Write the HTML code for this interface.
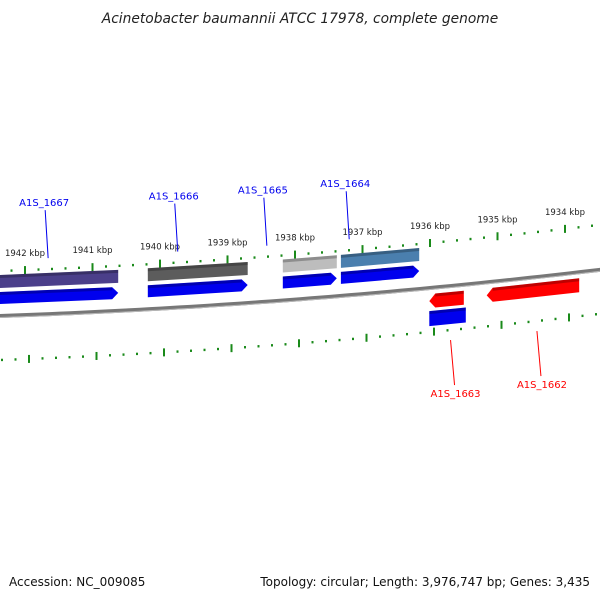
<!DOCTYPE html>
<html><head><meta charset="utf-8"><style>
html,body{margin:0;padding:0;background:#fff;width:600px;height:600px;overflow:hidden}
svg{display:block;font-family:"DejaVu Sans","Liberation Sans",sans-serif}
</style></head><body>
<svg id="chart" width="600" height="600" viewBox="0 0 600 600">
<text x="300" y="23" text-anchor="middle" font-size="13.8" font-style="italic" fill="#222">Acinetobacter baumannii ATCC 17978, complete genome</text>
<g id="layer"></g>
<text x="9" y="586" font-size="12" fill="#111">Accession: NC_009085</text>
<text x="590" y="586" text-anchor="end" font-size="12" fill="#111">Topology: circular; Length: 3,976,747 bp; Genes: 3,435</text>
</svg>
<script>
const tickLabels = [1942, 1941, 1940, 1939, 1938, 1937, 1936, 1935, 1934];
const geneNames = ["A1S_1667","A1S_1666","A1S_1665","A1S_1664","A1S_1663","A1S_1662"];
const geneStart = [1942.37, 1940.18, 1938.18, 1937.32, 1936.01, 1935.16];
const geneEnd = [1940.62, 1938.70, 1937.38, 1936.16, 1935.50, 1933.79];
const geneStrand = [1, 1, 1, 1, -1, -1];
const geneClassColor = ["#4b3f8a","#5c5c5c","#bdbdbd","#4a7fae","#0000ee",null];

const NS="http://www.w3.org/2000/svg";
const layer=document.getElementById('layer');
function X(kbp){return 25+(1942-kbp)*67.5;}
function C(x){return 316-0.035*x-0.00007*x*x;}
function mk(tag,attrs){const e=document.createElementNS(NS,tag);for(const k in attrs)e.setAttribute(k,attrs[k]);layer.appendChild(e);return e;}

let d='';for(let x=-10;x<=610;x+=10){d+=(x===-10?'M':'L')+x+','+C(x).toFixed(2);}
const bb=mk('path',{d:d,fill:'none',stroke:'#777','stroke-width':4});


const bb2=mk('path',{d:d,fill:'none',stroke:'#b8b8b8','stroke-width':1,transform:'translate(0,1.5)'});



const kMin=tickLabels[tickLabels.length-1]-0.6,kMax=tickLabels[0]+0.6;
for(let i=Math.round(kMin*5);i<=Math.round(kMax*5);i++){
  const k=i/5,x=X(k);if(x<-5||x>605)continue;
  const major=(i%5===0);
  [[-45,0],[44,4]].forEach(([off,shift])=>{
    const xx=x+shift,y=C(xx)+off;
    const t=mk('rect',{x:xx-1,y:major?y-4:y-1.2,width:2,height:major?8:2.4,fill:'#1a8a1a'});
    
    
  });
}
tickLabels.forEach(k=>{
  const x=X(k);
  const t=mk('text',{x:x,y:C(x)-45-14,'text-anchor':'middle','font-size':'8.5',fill:'#222'});
  t.textContent=k+' kbp';
  
  
});

function band(x0,x1,o0,o1,fill,head,name){
  const h=6,m=(o0+o1)/2;
  let pts=[];
  if(head===1){pts=[[x0,C(x0)+o0],[x1-h,C(x1-h)+o0],[x1,C(x1)+m],[x1-h,C(x1-h)+o1],[x0,C(x0)+o1]];}
  else if(head===-1){pts=[[x0+h,C(x0+h)+o0],[x1,C(x1)+o0],[x1,C(x1)+o1],[x0+h,C(x0+h)+o1],[x0,C(x0)+m]];}
  else pts=[[x0,C(x0)+o0],[x1,C(x1)+o0],[x1,C(x1)+o1],[x0,C(x0)+o1]];
  const p=mk('polygon',{points:pts.map(q=>q[0].toFixed(1)+','+q[1].toFixed(1)).join(' '),fill:fill});
  
  
  const s=mk('polygon',{points:[[pts[0][0],pts[0][1]],[pts[1][0],pts[1][1]],[pts[1][0],pts[1][1]+3],[pts[0][0],pts[0][1]+3]].map(q=>q.join(',')).join(' '),fill:'#000',opacity:0.25});
  
  
}

geneNames.forEach((n,i)=>{
  const x0=X(geneStart[i]),x1=X(geneEnd[i]);
  const mid=(x0+x1)/2;
  if(geneStrand[i]===1){
    band(x0,x1,-41,-28,geneClassColor[i],0,n.toLowerCase()+'-class-bar');
    band(x0,x1,-24,-12,'#0000ee',1,n.toLowerCase()+'-gene');
    const bx=Math.min(mid,x1-68)-2;
    const by=C(bx)-56;
    const ln=mk('line',{x1:bx-3,y1:by-48,x2:bx,y2:by,stroke:'#0000ee','stroke-width':1});
    
    
    const t=mk('text',{x:bx-4,y:by-52,'text-anchor':'middle','font-size':'10',fill:'#0000ee'});
    t.textContent=n;
    
    
  } else {
    band(x0,x1,6,20,'#ff0000',-1,n.toLowerCase()+'-gene');
    if(geneClassColor[i]) band(x0,x1+2,23,38,geneClassColor[i],0,n.toLowerCase()+'-class-bar');
    const lx=mid+4;
    const ly=C(lx)+54;
    const ln=mk('line',{x1:lx,y1:ly,x2:lx+4,y2:ly+45,stroke:'#ff0000','stroke-width':1});
    
    
    const t=mk('text',{x:lx+5,y:ly+57,'text-anchor':'middle','font-size':'10',fill:'#ff0000'});
    t.textContent=n;
    
    
  }
});
</script>
</body></html>
